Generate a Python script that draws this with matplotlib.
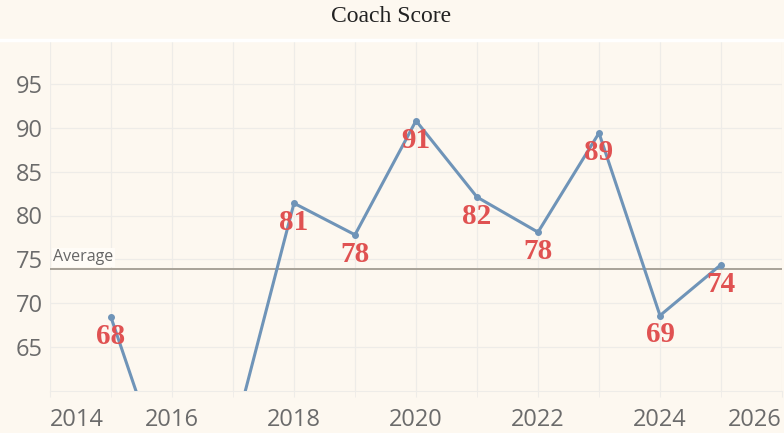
import numpy as np
import matplotlib
matplotlib.use("Agg")
import matplotlib.pyplot as plt

years = [2015, 2016, 2017, 2018, 2019, 2020, 2021, 2022, 2023, 2024, 2025]
scores = [68.4, 47.9, 54.6, 81.4, 77.8, 90.8, 82.1, 78.1, 89.4, 68.6, 74.4]
x_labels = [2014, 2016, 2018, 2020, 2022, 2024, 2026]
y_ticks = [65, 70, 75, 80, 85, 90, 95]

bg = "#fdf8f0"
line_col = "#6f94b8"
label_col = "#e05252"
tick_col = "#6b6b6b"

fig = plt.figure(figsize=(7.84, 4.33), dpi=100, facecolor=bg)
ax = fig.add_axes([50 / 784, 42 / 433, 732 / 784, 351 / 433])
ax.set_facecolor(bg)

ax.set_xlim(2014, 2026)
ax.set_ylim(60, 100)

# grid
ax.set_xticks(range(2014, 2027), minor=True)
ax.set_xticks(x_labels)
ax.set_yticks(y_ticks)
ax.grid(True, which="both", axis="x", color="#eeece8", lw=0.9)
ax.grid(True, which="major", axis="y", color="#eeece8", lw=0.9)
ax.set_axisbelow(True)
for s in ["left", "right", "top"]:
    ax.spines[s].set_visible(False)
ax.spines["bottom"].set_color("#eeece8")
ax.tick_params(axis="both", which="both", length=0, colors=tick_col, labelsize=17)
ax.tick_params(axis="x", which="both", length=4, color="#eeece8", pad=8)
ax.tick_params(axis="y", pad=5)

ax.set_xticklabels([str(v) for v in x_labels])
xt = ax.get_xticklabels()
xt[0].set_ha("left")
xt[-1].set_ha("right")
for lbl in ax.get_xticklabels() + ax.get_yticklabels():
    lbl.set_fontfamily("Open Sans")
    lbl.set_color(tick_col)

# white separator under title
fig.add_artist(plt.Line2D([0, 1], [1 - 40 / 433] * 2, color="white", lw=2.5,
                          transform=fig.transFigure))

ax.plot(years, scores, color=line_col, lw=2.2, marker="o", ms=4, zorder=3)

avg = np.mean(scores)
ax.axhline(avg, color="#a8a298", lw=1.4, zorder=2)
ax.text(2014.05, avg + 0.35, "Average", fontsize=11.5, color="#666666",
        family="Open Sans", va="bottom", ha="left",
        bbox=dict(facecolor="#fffcf7", edgecolor="none", pad=1))

for x, y in zip(years, scores):
    if y < 60:
        continue
    ax.annotate(f"{round(y):d}", (x, y), xytext=(0, -14), textcoords="offset points",
                ha="center", va="center", fontsize=21, fontweight="bold",
                family="Liberation Serif", color=label_col, zorder=4)

fig.text(391 / 784, 1 - 16 / 433, "Coach Score", ha="center", va="center",
         fontsize=17, family="Liberation Serif", color="#222222")

fig.savefig("out.png", dpi=100, facecolor=bg)
